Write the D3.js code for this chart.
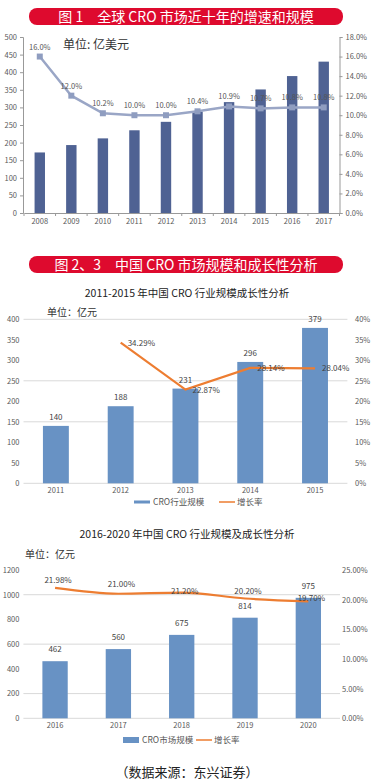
<!DOCTYPE html>
<html>
<head>
<meta charset="utf-8">
<script src="https://d3js.org/d3.v7.min.js"></script>
<style>
  html, body { margin: 0; padding: 0; background: #fff; }
  svg { display: block; }
  text { font-family: "Noto Sans CJK SC", "Noto Sans", sans-serif; }
  .tick text { font-size: 7.5px; fill: #595959; }
</style>
</head>
<body>
<svg id="chart" width="375" height="783"></svg>
<script>
// --- data ---
const globalYears = ["2008","2009","2010","2011","2012","2013","2014","2015","2016","2017"];
const globalSize = [172, 193, 212, 235, 259, 288, 315, 351, 389, 430];      // 亿美元
const globalGrowth = [16.0, 12.0, 10.2, 10.0, 10.0, 10.4, 10.9, 10.7, 10.8, 10.8]; // %

const cnYearsA = ["2011","2012","2013","2014","2015"];
const cnSizeA = [140, 188, 231, 296, 379];
const cnGrowthA = [null, 34.29, 22.87, 28.14, 28.04];

const cnYearsB = ["2016","2017","2018","2019","2020"];
const cnSizeB = [462, 560, 675, 814, 975];
const cnGrowthB = [21.98, 21.00, 21.20, 20.20, 19.70];

const leftTicksA = [0, 50, 100, 150, 200, 250, 300, 350, 400];
const rightTicksA = [0, 5, 10, 15, 20, 25, 30, 35, 40];
const gridA = [0, 150, 250, 400];
const leftTicksB = [0, 200, 400, 600, 800, 1000, 1200];
const rightTicksB = [0, 5, 10, 15, 20, 25];
const gridB = [0, 200, 600, 1000];

const red = "#de0a2e";
const svg = d3.select("#chart");

// red title banners
function banner(y0, h, label) {
  svg.append("rect").attr("x", 29).attr("y", y0).attr("width", 314).attr("height", h)
    .attr("rx", 8).attr("fill", red);
  svg.append("text").attr("x", 186).attr("y", y0 + h / 2 + 5)
    .attr("text-anchor", "middle").attr("fill", "#fff").attr("font-size", 14)
    .text(label);
}
banner(8, 17, "图 1　全球 CRO 市场近十年的增速和规模");
banner(256, 17, "图 2、3　中国 CRO 市场规模和成长性分析");

// ---------------- chart 1 : global ----------------
(function () {
  const x = d3.scaleBand().domain(globalYears).range([24, 339.5]).paddingInner(0.67).paddingOuter(0.335);
  const y = d3.scaleLinear().domain([0, 500]).range([213, 37]);
  const y2 = d3.scaleLinear().domain([0, 18]).range([213, 37]);
  const g = svg.append("g");

  g.selectAll("rect.bar").data(globalSize).join("rect")
    .attr("class", "bar")
    .attr("x", (d, i) => x(globalYears[i]))
    .attr("y", d => y(d))
    .attr("width", x.bandwidth())
    .attr("height", d => y(0) - y(d))
    .attr("fill", "#4f6293");

  const la = g.append("g").attr("transform", "translate(23,0)")
    .call(d3.axisLeft(y).tickValues(d3.range(0, 501, 50)).tickSize(3).tickPadding(3));
  la.select(".domain").attr("stroke", "#999");
  la.selectAll(".tick line").attr("stroke", "#999");

  const ra = g.append("g").attr("transform", "translate(339.5,0)")
    .call(d3.axisRight(y2).tickValues(d3.range(0, 19, 2)).tickSize(3).tickPadding(3)
      .tickFormat(d => d.toFixed(1) + "%"));
  ra.select(".domain").attr("stroke", "#999");
  ra.selectAll(".tick line").attr("stroke", "#999");

  const xa = g.append("g").attr("transform", "translate(0,213)")
    .call(d3.axisBottom(x).tickSize(0).tickPadding(6));
  xa.select(".domain").attr("stroke", "#999");
  const half = x.step() / 2;
  g.selectAll("line.sep").data(globalYears.concat(["end"])).join("line")
    .attr("class", "sep")
    .attr("x1", (d, i) => i < globalYears.length ? x(d) + x.bandwidth() / 2 - half : x(globalYears[i - 1]) + x.bandwidth() / 2 + half)
    .attr("x2", function () { return d3.select(this).attr("x1"); })
    .attr("y1", 213).attr("y2", 216).attr("stroke", "#999");

  const cx = (d, i) => x(globalYears[i]) + x.bandwidth() / 2;
  g.append("path").datum(globalGrowth)
    .attr("fill", "none").attr("stroke", "#9aa6c6").attr("stroke-width", 2.5)
    .attr("d", d3.line().x(cx).y(d => y2(d)));
  g.selectAll("path.mk").data(globalGrowth).join("path")
    .attr("class", "mk")
    .attr("transform", (d, i) => `translate(${cx(d, i)},${y2(d)})`)
    .attr("d", d3.symbol(d3.symbolSquare, 36))
    .attr("fill", "#8f9dc0");
  g.selectAll("text.gl").data(globalGrowth).join("text")
    .attr("class", "gl")
    .attr("x", cx).attr("y", d => y2(d) - 7)
    .attr("text-anchor", "middle").attr("font-size", 7.5).attr("fill", "#555")
    .text(d => d.toFixed(1) + "%");

  g.append("text").attr("x", 63).attr("y", 49).attr("font-size", 12).attr("fill", "#333")
    .text("单位: 亿美元");
})();

// ---------------- helper for the two china charts ----------------
function cnChart(o) {
  const g = svg.append("g");
  const x = d3.scaleBand().domain(o.years).range(o.xr).paddingInner(0.6).paddingOuter(0.3);
  const y = d3.scaleLinear().domain([0, o.maxL]).range(o.yr);
  const y2 = d3.scaleLinear().domain([0, o.maxR]).range(o.yr);

  g.selectAll("line.grid").data(o.grid).join("line")
    .attr("class", "grid")
    .attr("x1", o.xr[0]).attr("x2", o.xr[1])
    .attr("y1", d => y(d)).attr("y2", d => y(d))
    .attr("stroke", "#d9d9d9").attr("stroke-width", 1);

  g.selectAll("rect.bar").data(o.size).join("rect")
    .attr("class", "bar")
    .attr("x", (d, i) => x(o.years[i]))
    .attr("y", d => y(d))
    .attr("width", x.bandwidth())
    .attr("height", d => y(0) - y(d))
    .attr("fill", "#6892c4");

  g.selectAll("text.bl").data(o.size).join("text")
    .attr("class", "bl")
    .attr("x", (d, i) => x(o.years[i]) + x.bandwidth() / 2)
    .attr("y", d => y(d) - o.bdy)
    .attr("text-anchor", "middle").attr("font-size", 8).attr("fill", "#444")
    .text(d => d);

  const la = g.append("g").attr("transform", `translate(${o.xr[0] - 1},0)`)
    .call(d3.axisLeft(y).tickValues(o.leftTicks).tickSize(0).tickPadding(3).tickFormat(d3.format("d")));
  la.select(".domain").remove();
  la.selectAll(".tick text").attr("font-size", 7.5);

  const ra = g.append("g").attr("transform", `translate(${o.rightX},0)`)
    .call(d3.axisRight(y2).tickValues(o.rightTicks).tickSize(0).tickPadding(0).tickFormat(o.rfmt));
  ra.select(".domain").remove();
  ra.selectAll(".tick text").attr("font-size", 7.5);

  const xa = g.append("g").attr("transform", `translate(0,${o.yr[0]})`)
    .call(d3.axisBottom(x).tickSize(0).tickPadding(4));
  xa.select(".domain").remove();
  xa.selectAll(".tick text").attr("font-size", 8);

  const cx = i => x(o.years[i]) + x.bandwidth() / 2;
  const pts = o.growth.map((d, i) => [i, d]).filter(p => p[1] !== null);
  g.append("path").datum(pts)
    .attr("fill", "none").attr("stroke", "#ed7d31").attr("stroke-width", 2.2)
    .attr("d", d3.line().x(p => cx(p[0])).y(p => y2(p[1])).curve(o.curve));
  g.selectAll("text.gl").data(pts).join("text")
    .attr("class", "gl")
    .attr("x", p => cx(p[0]) + o.gdx)
    .attr("y", (p, k) => y2(p[1]) + o.gdy[k])
    .attr("text-anchor", o.ganchor).attr("font-size", 8).attr("fill", "#444")
    .text(p => p[1].toFixed(2) + "%");

  svg.append("text").attr("x", 187).attr("y", o.titleY).attr("text-anchor", "middle")
    .attr("font-size", 10.5).attr("fill", "#222").text(o.title);
  svg.append("text").attr("x", o.unitX).attr("y", o.unitY)
    .attr("font-size", 10).attr("fill", "#333").text("单位：亿元");

  // legend
  const lg = svg.append("g");
  lg.append("rect").attr("x", o.leg[0]).attr("y", o.legY - o.legH / 2).attr("width", 16).attr("height", o.legH)
    .attr("fill", "#6892c4");
  lg.append("text").attr("x", o.leg[0] + 19).attr("y", o.legY + 3).attr("font-size", 8.5)
    .attr("fill", "#555").text(o.legText);
  lg.append("line").attr("x1", o.leg[1]).attr("x2", o.leg[1] + 16)
    .attr("y1", o.legY).attr("y2", o.legY).attr("stroke", "#ed7d31").attr("stroke-width", 1.5);
  lg.append("text").attr("x", o.leg[1] + 18).attr("y", o.legY + 3).attr("font-size", 8.5)
    .attr("fill", "#555").text("增长率");
}

cnChart({
  years: cnYearsA, size: cnSizeA, growth: cnGrowthA,
  xr: [23.5, 347.4], yr: [483.3, 319.3], maxL: 400, maxR: 40,
  grid: gridA, leftTicks: leftTicksA, rightTicks: rightTicksA,
  rightX: 355, rfmt: d => d + "%",
  curve: d3.curveLinear, gdx: 7, gdy: [3, 3, 3, 3], ganchor: "start", bdy: 6,
  title: "2011-2015 年中国 CRO 行业规模成长性分析", titleY: 297,
  unitX: 47, unitY: 316,
  leg: [134, 219], legY: 502, legH: 3, legText: "CRO行业规模"
});

cnChart({
  years: cnYearsB, size: cnSizeB, growth: cnGrowthB,
  xr: [23.4, 340], yr: [718.3, 570], maxL: 1200, maxR: 25,
  grid: gridB, leftTicks: leftTicksB, rightTicks: rightTicksB,
  rightX: 342, rfmt: d => d.toFixed(2) + "%",
  curve: d3.curveMonotoneX, gdx: 3, gdy: [-5, -7, 1, -4, 0], ganchor: "middle", bdy: 9,
  title: "2016-2020 年中国 CRO 行业规模及成长性分析", titleY: 538,
  unitX: 25, unitY: 558,
  leg: [123, 196], legY: 740, legH: 6, legText: "CRO市场规模"
});

svg.append("text").attr("x", 187).attr("y", 777).attr("text-anchor", "middle")
  .attr("font-size", 13).attr("fill", "#222").text("（数据来源：东兴证券）");
</script>
</body>
</html>
